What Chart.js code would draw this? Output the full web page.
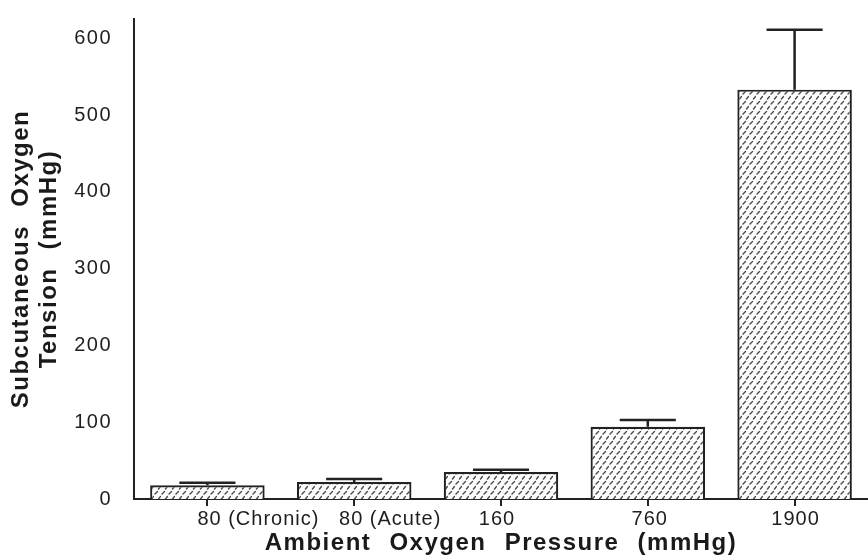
<!DOCTYPE html>
<html><head><meta charset="utf-8">
<script src="https://cdn.jsdelivr.net/npm/chart.js@4.4.0/dist/chart.umd.min.js"></script>
<style>html,body{margin:0;padding:0;background:#fff;}</style>
</head><body>
<canvas id="c" width="868" height="558"></canvas>
<script>
const categories = ['80 (Chronic)', '80 (Acute)', '160', '760', '1900'];
const meanValues = [18, 22, 35, 94, 533];
const errorValues = [3, 4, 3, 9, 78];
const yTickValues = [0, 100, 200, 300, 400, 500, 600];
const xTitle = 'Ambient Oxygen Pressure (mmHg)';
const yTitle = ['Subcutaneous Oxygen', 'Tension (mmHg)'];
const labelShift = [51, 36, -4, 2, 1];

function makePattern() {
  const t = document.createElement('canvas');
  t.width = 7; t.height = 10;
  const g = t.getContext('2d');
  g.fillStyle = '#fdfdfd'; g.fillRect(0, 0, 7, 10);
  g.strokeStyle = '#4a4a4a'; g.lineWidth = 1.4; g.lineCap = 'round';
  g.beginPath();
  g.moveTo(1, 4); g.lineTo(3.5, 1.5);
  g.moveTo(4.5, 9); g.lineTo(6.5, 6.5);
  g.stroke();
  return document.getElementById('c').getContext('2d').createPattern(t, 'repeat');
}

const spacingPlugin = {
  id: 'spacing',
  beforeDraw(chart) {
    chart.ctx.letterSpacing = '1.5px';
    chart.ctx.wordSpacing = '10px';
  }
};

const errorPlugin = {
  id: 'errorBars',
  afterDatasetsDraw(chart) {
    const meta = chart.getDatasetMeta(0);
    const y = chart.scales.y;
    const ctx = chart.ctx;
    ctx.save();
    ctx.strokeStyle = '#222';
    ctx.lineWidth = 2.5;
    meta.data.forEach((bar, i) => {
      const top = y.getPixelForValue(meanValues[i] + errorValues[i]);
      const half = bar.width * 0.245;
      ctx.beginPath();
      ctx.moveTo(bar.x, bar.y);
      ctx.lineTo(bar.x, top);
      ctx.moveTo(bar.x - half, top);
      ctx.lineTo(bar.x + half, top);
      ctx.stroke();
    });
    ctx.restore();
  }
};

const xLabelPlugin = {
  id: 'xLabels',
  afterDraw(chart) {
    const xs = chart.scales.x;
    const ctx = chart.ctx;
    ctx.save();
    ctx.font = '20px "Liberation Sans", Arial, sans-serif';
    ctx.fillStyle = '#1e1e1e';
    ctx.textAlign = 'center';
    ctx.textBaseline = 'middle';
    ctx.letterSpacing = '1px';
    ctx.wordSpacing = '0px';
    categories.forEach((c, i) => {
      ctx.fillText(c, xs.getPixelForTick(i) + labelShift[i], 519);
    });
    ctx.restore();
  }
};

new Chart(document.getElementById('c'), {
  type: 'bar',
  data: {
    labels: categories,
    datasets: [{
      data: meanValues,
      backgroundColor: makePattern(),
      borderColor: '#222',
      borderWidth: 2.2,
      barPercentage: 0.78,
      categoryPercentage: 1.0
    }]
  },
  options: {
    responsive: false,
    animation: false,
    devicePixelRatio: 1,
    layout: { padding: { top: 12, right: 0, left: 0, bottom: 0 } },
    plugins: { legend: { display: false }, tooltip: { enabled: false } },
    scales: {
      x: {
        afterFit(s) { s.height = 59; },
        grid: { display: true, drawOnChartArea: false, drawTicks: true, tickLength: 7, offset: false, color: '#222', lineWidth: 2 },
        border: { display: true, color: '#222', width: 2 },
        ticks: { display: false },
        title: {
          display: true, text: xTitle, color: '#1a1a1a',
          font: { family: '"Liberation Sans", Arial, sans-serif', size: 24, weight: 'bold', lineHeight: 1.15 },
          padding: { top: 0, bottom: 1 }
        }
      },
      y: {
        min: 0, max: 625,
        afterFit(s) { s.width = 134; },
        afterBuildTicks(s) { s.ticks = yTickValues.map(v => ({ value: v })); },
        grid: { display: false },
        border: { display: true, color: '#222', width: 2 },
        ticks: {
          color: '#1e1e1e', padding: 14,
          font: { family: '"Liberation Sans", Arial, sans-serif', size: 20, lineHeight: 0.5 }
        },
        title: {
          display: true, text: yTitle, color: '#1a1a1a',
          font: { family: '"Liberation Sans", Arial, sans-serif', size: 24, weight: 'bold', lineHeight: 1.15 },
          padding: { top: 8, bottom: 0 }
        }
      }
    }
  },
  plugins: [spacingPlugin, errorPlugin, xLabelPlugin]
});
</script>
</body></html>
